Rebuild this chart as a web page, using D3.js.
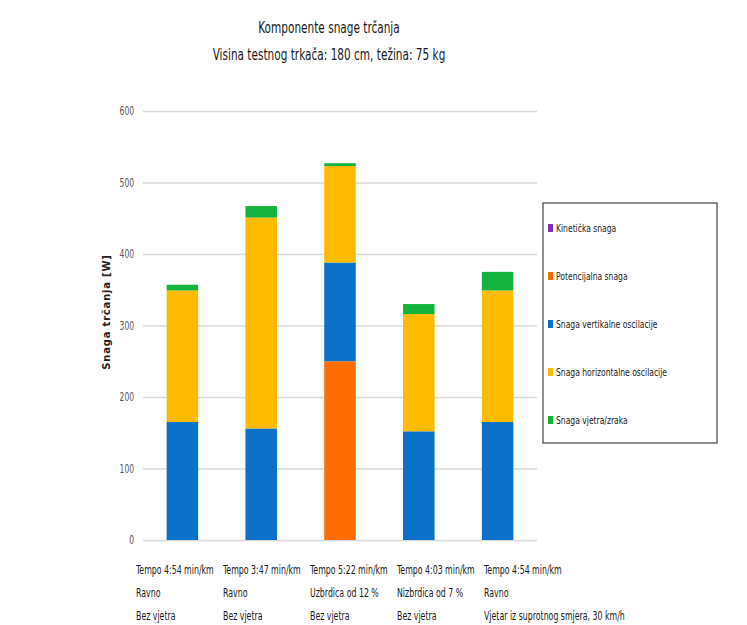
<!DOCTYPE html>
<html>
<head>
<meta charset="utf-8">
<script src="https://cdn.jsdelivr.net/npm/d3@7"></script>
<style>
  body { margin: 0; background: #fff; }
  text { font-family: "DejaVu Sans Condensed", "DejaVu Sans", sans-serif; }
</style>
</head>
<body>
<div id="chart"></div>
<script>
// chart data
const categories = ["c1", "c2", "c3", "c4", "c5"];
const catLines = [
  ["Tempo 4:54 min/km", "Ravno", "Bez vjetra"],
  ["Tempo 3:47 min/km", "Ravno", "Bez vjetra"],
  ["Tempo 5:22 min/km", "Uzbrdica od 12 %", "Bez vjetra"],
  ["Tempo 4:03 min/km", "Nizbrdica od 7 %", "Bez vjetra"],
  ["Tempo 4:54 min/km", "Ravno", "Vjetar iz suprotnog smjera, 30 km/h"]
];
const seriesNames = ["Kinetička snaga", "Potencijalna snaga", "Snaga vertikalne oscilacije",
                     "Snaga horizontalne oscilacije", "Snaga vjetra/zraka"];
const kineticka = [0, 0, 0, 0, 0];
const potencijalna = [0, 0, 250, 0, 0];
const vertikalna = [165, 156, 138, 152, 165];
const horizontalna = [184, 295, 135, 164, 184];
const vjetar = [8, 16, 4, 14, 26];
const yTicks = [0, 100, 200, 300, 400, 500, 600];
const colors = ["#7b2fbe", "#ff6d00", "#0a70c9", "#ffbb00", "#14b33d"];

const W = 747, H = 625;
const margin = {top: 111, right: 210, bottom: 85, left: 143};
const width = W - margin.left - margin.right,
      height = H - margin.top - margin.bottom;

// the reference uses a very narrow typeface, so squeeze the text horizontally
function squeeze(sel, k) {
  sel.each(function () {
    const len = this.getComputedTextLength();
    d3.select(this).attr("textLength", len * k).attr("lengthAdjust", "spacingAndGlyphs");
  });
}

const svg = d3.select("#chart")
  .append("svg")
  .attr("width", W)
  .attr("height", H);

// titles
const titles = svg.selectAll("text.title")
  .data(["Komponente snage trčanja", "Visina testnog trkača: 180 cm, težina: 75 kg"])
  .join("text")
  .attr("class", "title")
  .attr("x", 329).attr("y", (d, i) => 33 + i * 27)
  .attr("text-anchor", "middle")
  .style("font-size", "15px").attr("fill", "#1a1a1a")
  .text(d => d);
squeeze(titles, 0.78);

const g = svg.append("g")
  .attr("transform", `translate(${margin.left},${margin.top})`);

// scales
const x = d3.scaleBand()
  .range([0, width])
  .domain(categories)
  .paddingInner(0.6)
  .paddingOuter(0.3);
const y = d3.scaleLinear()
  .domain([0, 600])
  .range([height, 0]);

// grid + y axis
const yAxis = g.append("g")
  .call(d3.axisLeft(y).tickValues(yTicks).tickSize(-width).tickPadding(9));
yAxis.select(".domain").remove();
yAxis.selectAll(".tick line").attr("stroke", "#d9d9d9").attr("stroke-width", 1.5);
yAxis.selectAll(".tick text")
  .style("font-size", "12px").attr("fill", "#555");
squeeze(yAxis.selectAll(".tick text"), 0.7);

// y label
svg.append("text")
  .attr("transform", `translate(110,312) rotate(-90)`)
  .attr("text-anchor", "middle")
  .style("font-family", "'DejaVu Sans', sans-serif")
  .style("font-size", "10px").style("font-weight", "bold")
  .style("letter-spacing", "0.8px")
  .attr("fill", "#222")
  .text("Snaga trčanja [W]");

// stacked bars
const rows = categories.map((c, i) => ({
  cat: c,
  s0: kineticka[i], s1: potencijalna[i], s2: vertikalna[i], s3: horizontalna[i], s4: vjetar[i]
}));
const keys = ["s0", "s1", "s2", "s3", "s4"];
const stacked = d3.stack().keys(["s1", "s2", "s3", "s4", "s0"])(rows);
const colorOf = d3.scaleOrdinal().domain(keys).range(colors);

g.selectAll("g.layer")
  .data(stacked)
  .join("g")
  .attr("class", "layer")
  .attr("fill", d => colorOf(d.key))
  .selectAll("rect")
  .data(d => d)
  .join("rect")
  .attr("x", d => x(d.data.cat))
  .attr("y", d => y(d[1]))
  .attr("width", x.bandwidth())
  .attr("height", d => y(d[0]) - y(d[1]));

// category labels (three lines each, left aligned)
const xl = d3.scaleBand().domain(categories).range([136, 571]);
categories.forEach((c, i) => {
  const t = svg.append("text")
    .attr("x", xl(c)).attr("y", 574)
    .style("font-size", "13px").attr("fill", "#1a1a1a");
  catLines[i].forEach((line, j) => {
    t.append("tspan").attr("x", xl(c)).attr("y", 574 + j * 23).text(line);
  });
  squeeze(t.selectAll("tspan"), 0.67);
});

// legend
const lg = svg.append("g").attr("transform", "translate(543,203)");
lg.append("rect")
  .attr("width", 174).attr("height", 240)
  .attr("fill", "#fff").attr("stroke", "#444").attr("stroke-width", 1.2);
const ly = d3.scalePoint().domain(seriesNames).range([25, 217]);
seriesNames.forEach((s, i) => {
  lg.append("rect")
    .attr("x", 5).attr("y", ly(s) - 4)
    .attr("width", 5).attr("height", 8)
    .attr("fill", colors[i]);
  const lt = lg.append("text")
    .attr("x", 13).attr("y", ly(s) + 4)
    .style("font-size", "11px").attr("fill", "#1a1a1a")
    .text(s);
  squeeze(lt, 0.77);
});
</script>
</body>
</html>
